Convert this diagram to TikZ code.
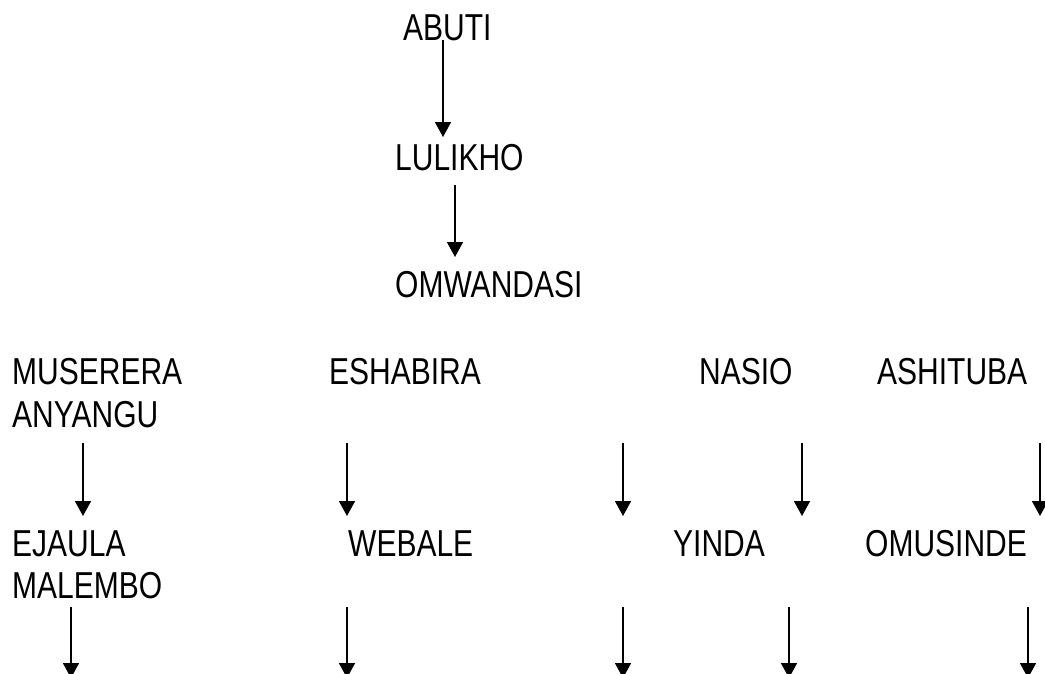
\documentclass[tikz,border=0pt]{standalone}
\usepackage{fontspec}
\setmainfont{Liberation Sans}[FakeStretch=0.8]
\usetikzlibrary{arrows.meta}
\begin{document}
\begin{tikzpicture}[x=1pt,y=-1pt,
  lbl/.style={anchor=base west,inner sep=0pt,font=\fontsize{37.5}{44}\selectfont},
  arr/.style={line width=1.6pt,-{Triangle[width=16pt,length=15pt]}}]
\clip (0,0) rectangle (1045,673);
% names
\node[lbl] (abuti) at (403,40) {ABUTI};
\node[lbl] (lulikho) at (395,170) {LULIKHO};
\node[lbl] (omwandasi) at (395,297) {OMWANDASI};
\node[lbl] (muserera) at (12,384) {MUSERERA};
\node[lbl] (anyangu) at (12,427) {ANYANGU};
\node[lbl] (eshabira) at (329,384) {ESHABIRA};
\node[lbl] (nasio) at (699,384) {NASIO};
\node[lbl] (ashituba) at (877,384) {ASHITUBA};
\node[lbl] (ejaula) at (12,556) {EJAULA};
\node[lbl] (malembo) at (12,598) {MALEMBO};
\node[lbl] (webale) at (348,556) {WEBALE};
\node[lbl] (yinda) at (673,556) {YINDA};
\node[lbl] (omusinde) at (865,556) {OMUSINDE};
% arrow ends
\coordinate (a1s) at (443,40);  \coordinate (a1e) at (443,137);
\coordinate (a2s) at (455,185); \coordinate (a2e) at (455,257);
\foreach \n/\x in {p/83,q/347,r/623,s/802,t/1040}{
  \coordinate (r1\n s) at (\x,443); \coordinate (r1\n e) at (\x,516);}
\foreach \n/\x in {p/71,q/347,r/623,s/789,t/1028}{
  \coordinate (r2\n s) at (\x,607); \coordinate (r2\n e) at (\x,678);}
% arrows
\draw[arr] (a1s) -- (a1e);
\draw[arr] (a2s) -- (a2e);
\foreach \n in {p,q,r,s,t}{
  \draw[arr] (r1\n s) -- (r1\n e);
  \draw[arr] (r2\n s) -- (r2\n e);}
\end{tikzpicture}
\end{document}
